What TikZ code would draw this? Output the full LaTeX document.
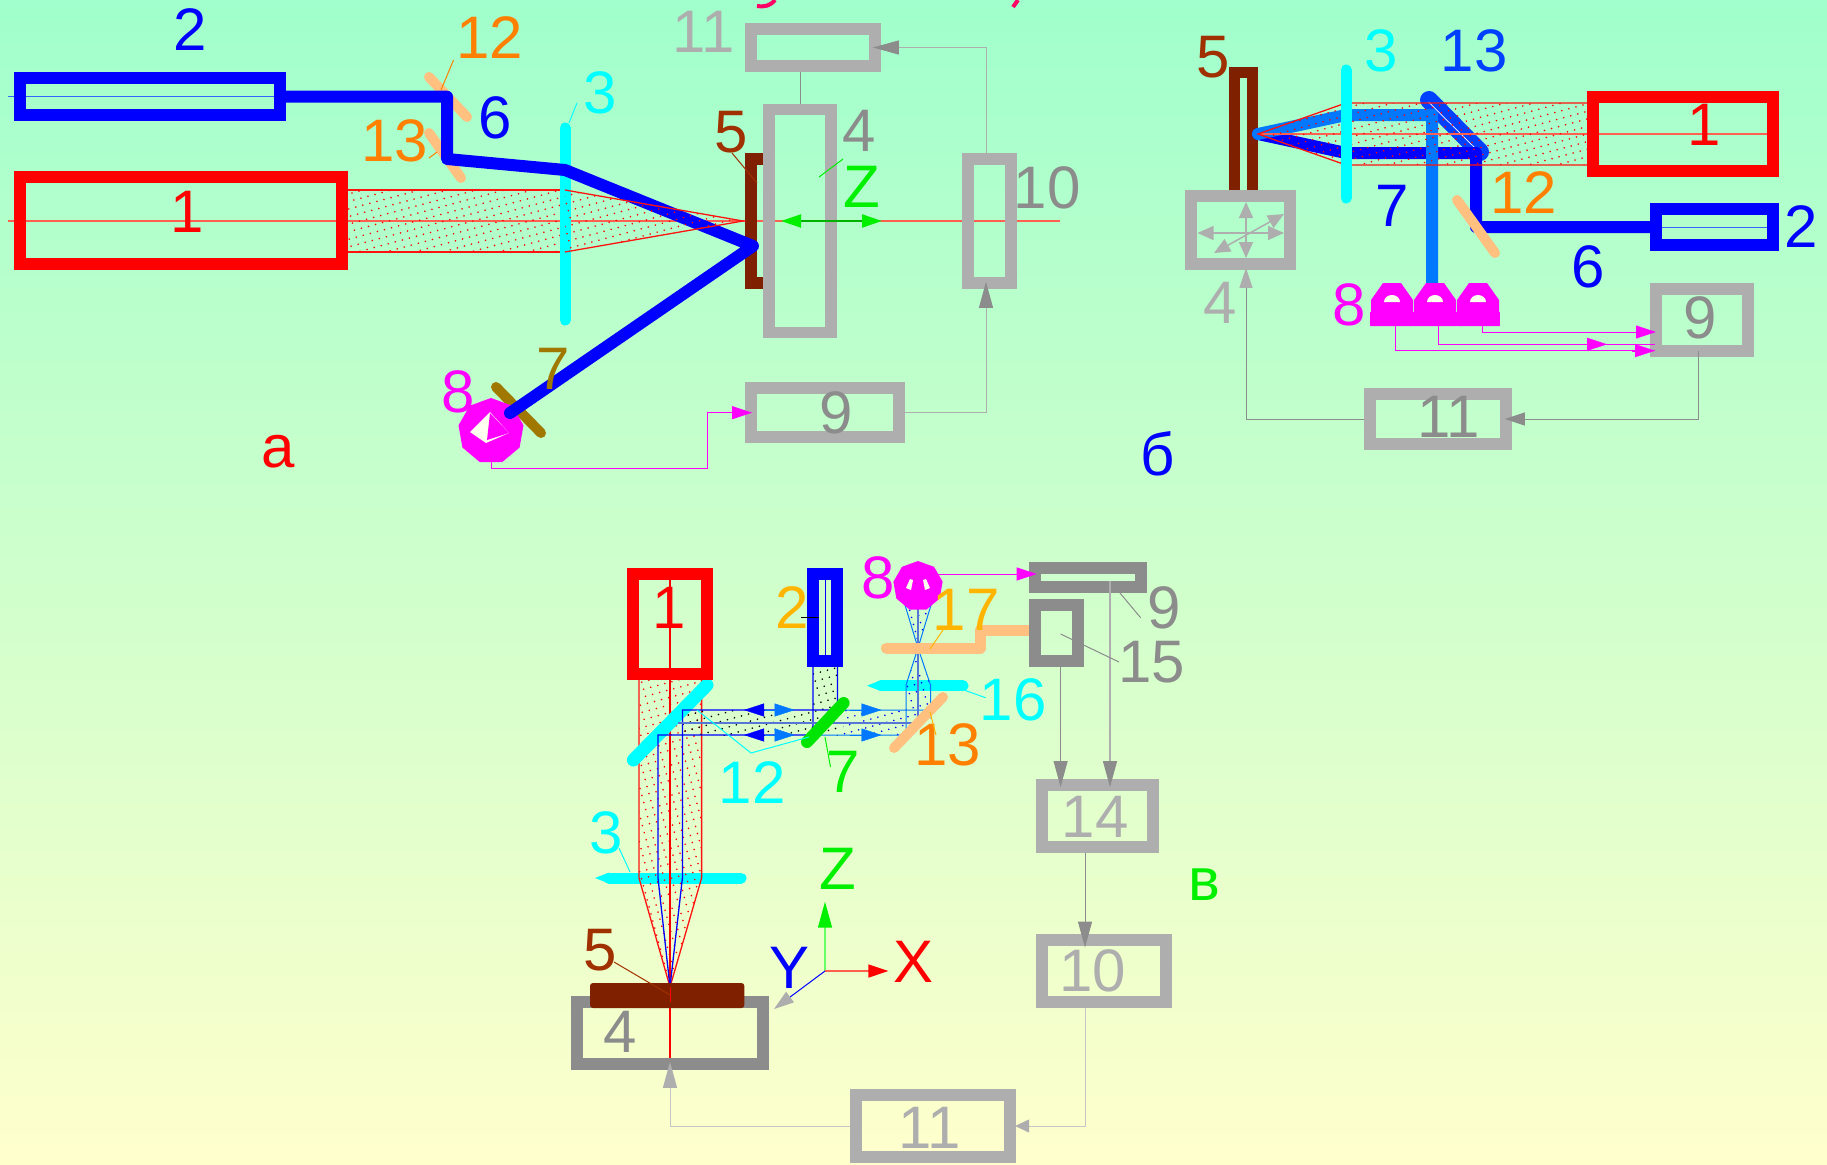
\documentclass[tikz,border=0pt]{standalone}
\usepackage{fontspec}
\setmainfont{Liberation Sans}
\usetikzlibrary{arrows.meta,patterns.meta,shapes.geometric}
\definecolor{bgtop}{HTML}{A0FFCC}
\definecolor{bgbot}{HTML}{FFFFCC}
\definecolor{grayA}{HTML}{AEAEAE}
\definecolor{grayB}{HTML}{8C8C8C}
\definecolor{brownS}{HTML}{7F2000}
\definecolor{brownL}{HTML}{A03000}
\definecolor{orangeL}{HTML}{FF8000}
\definecolor{peach}{HTML}{FFC080}
\definecolor{goldL}{HTML}{FFB400}
\definecolor{oliveL}{HTML}{A07800}
\definecolor{blueL}{HTML}{0078FF}
\definecolor{blueM}{HTML}{0040FF}
\definecolor{axisR}{HTML}{FF6050}
\definecolor{pinkT}{HTML}{FF0066}
\definecolor{cyanF}{HTML}{00FFFF}
\definecolor{magF}{HTML}{FF00FF}
\definecolor{redF}{HTML}{FF0000}
\definecolor{greenF}{HTML}{00F000}
\definecolor{blueF}{HTML}{0000FF}
\tikzset{
    box/.style={draw=#1, line width=11.7pt, inner sep=0pt},
    lab/.style={font=\fontsize{60}{60}\selectfont, inner sep=0pt, text=#1},
    leader/.style={draw=#1, line width=1pt},
    mirror/.style={draw=#1, line width=10pt, line cap=round},
    ray/.style={draw=#1, line width=12pt, line join=round, line cap=round},
    beam/.style={draw=redF!80!axisR, line width=1.3pt, pattern={Dots[distance=7.3pt,radius=.9pt,angle=15]}, pattern color=redF},
    band/.style={pattern={Dots[distance=7.3pt,radius=.9pt,angle=15]}, pattern color=#1},
    wire/.style={draw=#1, line width=1pt},
    tipG/.style={-{Triangle[length=26pt,width=14pt,color=#1]}},
    tipS/.style={-{Triangle[length=20pt,width=13pt,color=#1]}},
    det/.style={regular polygon, regular polygon sides=9, fill=magF, inner sep=0pt}
}
\begin{document}
\begin{tikzpicture}[x=1pt,y=-1pt]
    \useasboundingbox (0,0) rectangle (1827,1164);
    \shade[top color=bgtop, bottom color=bgbot] (0,0) rectangle (1827,1164);

    % Title remains
    \draw[pinkT, line width=4pt] (775,0) .. controls (770,6) and (765,7) .. (757,6);
    \draw[pinkT, line width=4pt] (1018,0) -- (1013,7);

    % Panel a: axes and beam
    \draw[blueM!80, line width=1pt] (7.5,96.7) -- (274,96.7);
    \draw[axisR, line width=1.5pt] (7.5,221) -- (1060,221);
    \draw[beam] (348,190) -- (565,190) -- (565,252) -- (348,252);
    \draw[cyanF, line width=11pt, line cap=round] (565,128) -- (565,320);

    % Panel a: mirrors
    \draw[mirror=peach] (429,77) -- (467,117);
    \draw[mirror=peach] (429,133) -- (461,178);
    \draw[mirror=oliveL] (496,387) -- (541,433);

    % Panel a: sample
    \draw[brownS, line width=11.7pt] (775,159) -- (751,159) -- (751,283) -- (775,283);

    % Panel a: blocks
    \node[box=blueF, minimum width=260pt, minimum height=37pt] (a2) at (150,96.7) {};
    \node[box=redF, minimum width=322pt, minimum height=87pt] (a1) at (181,220.7) {};
    \node[box=grayA, minimum width=148pt, minimum height=49pt] (a9) at (825,412.7) {};
    \node[box=grayA, minimum width=124pt, minimum height=37pt] (a11) at (813,47.5) {};
    \node[box=grayA, minimum width=62pt, minimum height=223pt] (a4) at (800,221) {};
    \node[box=grayA, minimum width=43pt, minimum height=124pt] (a10) at (989.5,221) {};
    \node[det, minimum size=66pt] (a8) at (491,431) {};
    \fill[white!70!bgbot] (490,412) -- (509,433) -- (486,443) -- (470,432) -- cycle;
    \fill[magF] (490,413) -- (509,433) -- (487,440) -- cycle;

    % Panel a: laser path
    \draw[ray=blueF] (a2.east) -- (447,96.7) -- (447,159) -- (565,170) -- (753,246) -- (510,413);
    \draw[beam] (565,190) -- (743,221) -- (565,252);

    % Panel a: connectors
    \coordinate (ka) at (707,468.7);
    \draw[wire=magF, tipS=magF] (a8.south) |- (ka) |- ([xshift=7pt]a9.west);
    \draw[wire=grayA, tipG=grayB] (a9.east) -| ([xshift=-3.5pt,yshift=7pt]a10.south);
    \draw[wire=grayA, tipG=grayB] ([xshift=-3.5pt,yshift=-5pt]a10.north) |- ([xshift=-8pt]a11.east);
    \draw[wire=grayB] (a4.north |- a11.south) -- (a4.north);
    \draw[leader=greenF] (819,177) -- (843,159);
    \draw[green!70!black, line width=2pt, {Triangle[length=20pt,width=13pt,color=greenF]}-{Triangle[length=20pt,width=13pt,color=greenF]}] (781,221) -- (882,221);

    % Panel a: labels
    \node[lab=blueF] (la2) at (190,30) {2};
    \node[lab=redF] (la1) at (187,212) {1};
    \node[lab=orangeL] (la12) at (490,37.5) {12};
    \node[lab=orangeL] (la13) at (395,141) {13};
    \node[lab=blueF] (la6) at (495,118) {6};
    \node[lab=cyanF] (la3) at (600,93) {3};
    \node[lab=oliveL] (la7) at (553,369) {7};
    \node[lab=magF] (la8) at (458,392) {8};
    \node[lab=grayA] (la11) at (704,32) {11};
    \node[lab=brownL] (la5) at (731,132) {5};
    \node[lab=grayB] (la4) at (859,131) {4};
    \node[lab=greenF] (laz) at (862,187) {Z};
    \node[lab=grayB] (la10) at (1047,188) {10};
    \node[lab=grayB] (la9) at (836,413) {9};
    \node[lab=redF] (laa) at (278,452) {а};
    \draw[leader=orangeL] (453.5,60) -- (441,90);
    \draw[leader=orangeL] (429,158) -- (437,152);
    \draw[leader=cyanF] (577,103) -- (569,123);
    \draw[leader=brownL] (732,153) -- (757,183);

    % Panel b: sample and stage
    \draw[brownS, line width=11pt] (1234.5,196) -- (1234.5,72) -- (1252,72) -- (1252,196);
    \node[box=grayA, minimum width=99pt, minimum height=68pt] (b4) at (1240.5,230) {};
    \draw[grayA, line width=1.5pt, {Triangle[length=16pt,width=14pt]}-{Triangle[length=16pt,width=14pt]}] (1197.5,233) -- (1284,233);
    \draw[grayA, line width=1.5pt, {Triangle[length=16pt,width=14pt]}-{Triangle[length=16pt,width=14pt]}] (1214,253) -- (1284,214);
    \draw[grayA, line width=1.5pt, {Triangle[length=16pt,width=14pt]}-{Triangle[length=16pt,width=14pt]}] (1246,202) -- (1246,258);

    % Panel b: axes, mirrors, rays
    \draw[blueM!80, line width=1pt] (1662,227) -- (1767,227);
    \draw[blueM, line width=18pt, line cap=round] (1429,100) -- (1480,152);
    \draw[white, line width=.7pt] (1428.5,102) -- (1474,147);
    \node[box=blueF, minimum width=117pt, minimum height=36pt] (b2) at (1714.5,227) {};
    \coordinate (ra) at (1476,227);
    \coordinate (rb) at (1476,153);
    \draw[ray=blueF] (b2.west) -- (ra) -- (rb) -- (1346,153) -- (1258,134);
    \draw[ray=blueL] (1432,283) -- (1432,115) -- (1346,115) -- (1258,134);
    \draw[mirror=peach] (1457,200) -- (1495,253);

    % Panel b: beam and lens
    \draw[axisR, line width=1.5pt] (1258,134) -- (1767,134);
    \draw[beam] (1587,103) -- (1346,103) -- (1258,134) -- (1346,165) -- (1587,165);
    \draw[cyanF, line width=11pt, line cap=round] (1346,70) -- (1346,198);
    \node[box=redF, minimum width=180pt, minimum height=74pt] (b1) at (1683,134) {};

    % Panel b: detectors
    \fill[magF] (1370,312) rectangle (1500,326);
    \foreach \hx in {1392,1435,1478}{
        \fill[magF] (\hx-21,326) -- (\hx-21,300) -- (\hx-9,283) -- (\hx+9,283) -- (\hx+21,300) -- (\hx+21,326) -- cycle;
        \fill[white!70!bgbot] (\hx-8,302) arc (180:0:8pt and 7pt) -- cycle;
    }
    \coordinate (h1) at (1395,326);
    \coordinate (h2) at (1438.4,326);
    \coordinate (h3) at (1482,326);

    % Panel b: blocks and connectors
    \node[box=grayA, minimum width=92pt, minimum height=62pt] (b9) at (1702,320) {};
    \node[box=grayA, minimum width=136pt, minimum height=50pt] (b11) at (1438,419) {};
    \coordinate (k1) at (1656,332);
    \coordinate (k2) at (1655,344.3);
    \coordinate (k3) at (1655,350.7);
    \coordinate (m2a) at (1587,344.3);
    \coordinate (m2b) at (1607,344.3);
    \draw[wire=magF, tipS=magF] (h3) |- (k1);
    \draw[wire=magF] (h2) |- (k2);
    \draw[wire=magF] (h1) |- (k3);
    \draw[tipS=magF, magF] (m2a) -- (m2b);
    \draw[magF, tipS=magF] (1632,350.7) -- (k3);
    \draw[wire=grayB, tipS=grayB] ([xshift=-4pt,yshift=6pt]b9.south) |- ([xshift=-7pt]b11.east);
    \draw[wire=grayB, tipS=grayA] (b11.west) -| ([xshift=5.5pt,yshift=2pt]b4.south);

    % Panel b: labels
    \node[lab=redF] (lb1) at (1704,125) {1};
    \node[lab=blueF] (lb2) at (1801,227) {2};
    \node[lab=cyanF] (lb3) at (1381,51) {3};
    \node[lab=blueM] (lb13) at (1474,51) {13};
    \node[lab=brownL] (lb5) at (1213.5,57) {5};
    \node[lab=blueF] (lb7) at (1392,206) {7};
    \node[lab=orangeL] (lb12) at (1523.5,193) {12};
    \node[lab=blueF] (lb6) at (1588,267) {6};
    \node[lab=grayA] (lb4) at (1220,303) {4};
    \node[lab=magF] (lb8) at (1349.5,305) {8};
    \node[lab=grayB] (lb9) at (1700.5,318) {9};
    \node[lab=grayB] (lb11) at (1449,417) {11};
    \node[lab=blueF] (lbb) at (1158,454) {б};

    % Panel c: stage and sample
    \node[box=grayB, minimum width=186pt, minimum height=62pt] (c4) at (670,1033) {};

    % Panel c: lenses
    \draw[cyanF, line width=11pt, line cap=round] (609,878) -- (741,878);
    \fill[cyanF] (595,878) -- (609,872.5) -- (609,883.5) -- cycle;
    \draw[cyanF, line width=11pt, line cap=round] (881,685.7) -- (963,685.7);
    \fill[cyanF] (867,685.7) -- (881,680.2) -- (881,691.2) -- cycle;

    % Panel c: beams
    \draw[beam] (639,679) -- (639,878) -- (670,987) -- (701.6,878) -- (701.6,679);
    \fill[band=black] (813,667) rectangle (837.5,735);
    \fill[band=black] (682,710) rectangle (813,735);
    \fill[band=blueF] (843,710) rectangle (906,735);
    \fill[band=blueF] (906,685) rectangle (930.5,722);
    \fill[band=blueF] (906,685) -- (918,648) -- (930.5,685) -- cycle;
    \fill[band=blueF] (905,605) -- (918,648) -- (931,605) -- cycle;
    \draw[redF, line width=1.3pt] (670,580) -- (670,1058);
    \draw[mirror=cyanF, line width=13pt] (633.4,760) -- (707,685);
    \draw[blueF, line width=1.3pt] (813,667) -- (813,735) -- (658,735) -- (658,878) -- (670,987) -- (682.4,878) -- (682.4,710) -- (837.5,710) -- (837.5,667);
    \draw[blueL, line width=1pt] (843,710) -- (930.5,710) -- (930.5,685) -- (918,648) -- (906,685) -- (906,735) -- (820,735);
    \draw[blueM!50!grayA, line width=2pt] (678,722.7) -- (918,722.7) -- (918,605);
    \draw[blueL, line width=1pt] (905,605) -- (918,648) -- (931,605);
    \draw[blueF, line width=1pt] (825,580) -- (825,655);

    % Panel c: mirrors
    \draw[mirror=peach] (894,748) -- (943,697);
    \draw[green!90!black, line width=12pt, line cap=round] (807,742) -- (843.6,703);
    \draw[peach, line width=11pt, line cap=round, line join=round] (886.4,648) -- (980,648) -- (980,630) -- (1029,630);
    \foreach \by in {710,735}{
        \draw[blueF, tipS=blueF] (775,\by) -- (744,\by);
        \draw[blueL, tipS=blueL] (765,\by) -- (794.6,\by);
        \draw[blueL, tipS=blueL] (850,\by) -- (881.5,\by);
    }

    % Panel c: blocks
    \node[box=redF, minimum width=73.5pt, minimum height=99.5pt] (c1) at (670,624) {};
    \node[box=blueF, minimum width=24pt, minimum height=87pt] (c2) at (825,617.5) {};
    \node[box=grayB, minimum width=106pt, minimum height=19pt] (c9) at (1088,577.5) {};
    \node[box=grayB, minimum width=43pt, minimum height=56pt] (c15) at (1056.5,633) {};
    \node[box=grayA, minimum width=111pt, minimum height=62pt] (c14) at (1097.5,816) {};
    \node[box=grayA, minimum width=123.5pt, minimum height=62pt] (c10) at (1104,971) {};
    \node[box=grayA, minimum width=154.5pt, minimum height=62pt] (c11) at (933,1126) {};
    \node[det, minimum size=50pt] (c8) at (918,586) {};
    \fill[white!70!bgbot] (906,588) -- (910,579) -- (913,580) -- (911,590) -- cycle;
    \fill[white!70!bgbot] (930,588) -- (926,579) -- (923,580) -- (925,590) -- cycle;
    \fill[brownS, rounded corners=3pt] (590,983) rectangle (744.4,1008);
    \draw[redF, line width=1pt] (670,987) -- (670,1002);

    % Panel c: connectors
    \coordinate (tc1) at (1060.6,787);
    \coordinate (tc2) at (1110,787);
    \draw[magF, line width=1pt, tipS=magF] (937.4,574) -- ([xshift=7.5pt,yshift=3.5pt]c9.west);
    \draw[wire=grayB, tipG=grayB] (c15.south -| tc1) -- (tc1);
    \draw[grayA, line width=1.5pt, tipG=grayB] (1110,581) -- (tc2);
    \draw[wire=grayB, tipG=grayB] (c14.south -| c10.center) ++(-19pt,0) -- ++(0,-94.7pt);
    \draw[wire=grayA!70, -{Triangle[length=14pt,width=13pt,color=grayA]}] ([xshift=-19pt]c10.south) |- ([xshift=-1pt]c11.east);
    \draw[wire=grayA!70, tipG=grayA] (c11.west) -| ([yshift=8pt]c4.south);

    % Panel c: coordinate axes
    \coordinate (oc) at (825,971);
    \coordinate (oz) at (825,901.7);
    \coordinate (ox) at (888.4,971);
    \coordinate (oy) at (774,1009);
    \draw[green!60, line width=1.5pt, tipG=greenF] (oc) -- (oz);
    \draw[axisR, line width=1.5pt, tipS=redF] (oc) -- (ox);
    \draw[blueF, line width=1pt, tipS=grayA] (oc) -- (oy);

    % Panel c: labels
    \node[lab=redF] (lc1) at (669,608) {1};
    \node[lab=goldL] (lc2) at (792.5,608) {2};
    \node[lab=cyanF] (lc3) at (606,833) {3};
    \node[lab=grayB] (lc4) at (620,1031.7) {4};
    \node[lab=brownL] (lc5) at (600.6,950) {5};
    \node[lab=greenF] (lc7) at (843.6,771.7) {7};
    \node[lab=magF] (lc8) at (878,578) {8};
    \node[lab=grayB] (lc9) at (1164,608) {9};
    \node[lab=grayB] (lc15) at (1151.6,662) {15};
    \node[lab=goldL] (lc17) at (966,610) {17};
    \node[lab=cyanF] (lc16) at (1013,700) {16};
    \node[lab=orangeL] (lc13) at (947.6,745) {13};
    \node[lab=cyanF] (lc12) at (752,783) {12};
    \node[lab=grayA] (lc14) at (1095,816.7) {14};
    \node[lab=grayA] (lc10) at (1092.5,971) {10};
    \node[lab=grayA] (lc11) at (930,1128) {11};
    \node[lab=greenF] (lcz) at (837.5,869) {Z};
    \node[lab=redF] (lcx) at (913,962) {X};
    \node[lab=blueF] (lcy) at (789,968) {Y};
    \node[lab=greenF] (lcc) at (1204,885) {в};
    \draw[leader=cyanF] (619,848) -- (630,872);
    \draw[leader=brownL] (614,962) -- (670,995);
    \draw[leader=black] (801,617) -- (819,617);
    \draw[leader=cyanF] (964,690) -- (985.5,697.7);
    \draw[leader=cyanF] (697,710) -- (751,753) -- (809,737);
    \draw[leader=greenF] (825,737) -- (830.5,767);
    \draw[leader=goldL] (930,712) -- (936,735);
    \draw[leader=goldL] (943,630) -- (930,649);
    \draw[leader=grayB] (1120,593) -- (1140.6,617.7);
    \draw[leader=grayB] (1060.6,634) -- (1119,662);
\end{tikzpicture}
\end{document}
